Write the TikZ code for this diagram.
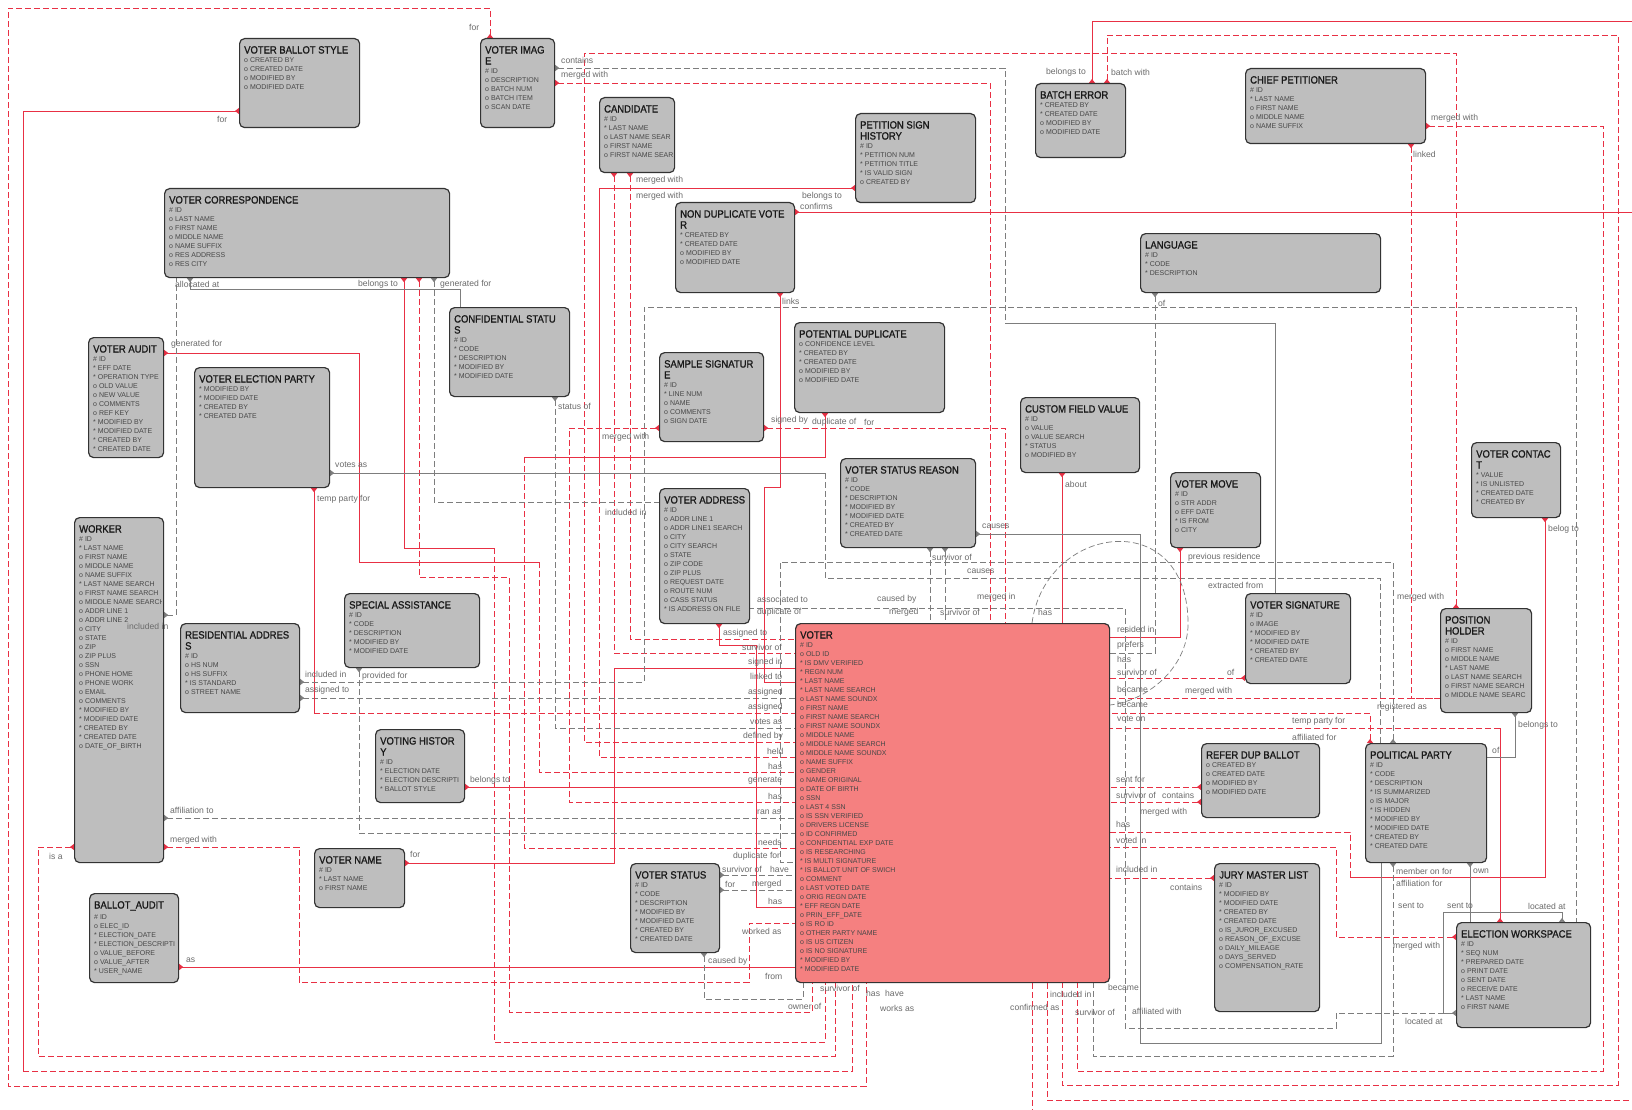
\documentclass[tikz,border=0pt]{standalone}
\usepackage{fontspec}
\setmainfont{Liberation Sans}
\newfontfamily\entfont{Liberation Sans}[FakeStretch=0.9,FakeBold=1.2]
\usetikzlibrary{arrows.meta}
\definecolor{entfill}{RGB}{190,190,190}
\definecolor{voterfill}{RGB}{245,128,128}
\definecolor{redl}{RGB}{232,48,68}
\definecolor{grayl}{RGB}{125,125,125}
\pgfdeclarelayer{bg}
\pgfsetlayers{bg,main}
\newcommand\sa{*\ }
\newcommand\so{o\ }
\newcommand\sh{\#\ }
\tikzset{
 ent/.style={draw=black!80, line width=1.2pt, rounded corners=5pt, inner sep=0pt},
 ttl/.style={inner sep=0pt, align=left, font=\entfont\fontsize{10.5}{11}\selectfont, text=black!90},
 att/.style={inner sep=0pt, align=left, font=\fontsize{7}{9}\selectfont, text=black!72},
 lab/.style={inner sep=0pt, anchor=west, font=\fontsize{8.6}{9}\selectfont, text=black!58},
 rs/.style={draw=redl, line width=0.9pt},
 rd/.style={rs, dash pattern=on 6pt off 3pt},
 gs/.style={draw=grayl, line width=0.7pt},
 gd/.style={gs, dash pattern=on 6pt off 3pt},
 cs/.style={arrows={Triangle[reversed,length=4pt,width=6pt]-}},
}
\newcommand\erbox[8][entfill]{%
 \node[ent, fill=#1, minimum width=#5-#3, minimum height=#6-#4, anchor=north west] (#2) at (#3,#4) {};
 \begin{scope}
 \clip (#3+2,#4+2) rectangle (#5-2,#6-2);
 \node[ttl, anchor=north west] (#2t) at ([shift={(5,8)}]#2.north west) {#7};
 \node[att, anchor=north west] (#2a) at ([shift={(0,3.3)}]#2t.south west) {#8};
 \end{scope}
}
\newcommand\mylbl[3]{\node[lab] (#1) at (#2) {#3};}
\begin{document}
\begin{tikzpicture}[x=1pt,y=-1pt]
\begin{pgfonlayer}{bg}
\fill[white] (0,0) rectangle (1632,1110);
\end{pgfonlayer}
\useasboundingbox (0,0) rectangle (1632,1110);

% ---------------- entities ----------------
\erbox{vbs}{239}{38}{359}{127}{VOTER BALLOT STYLE}{\so CREATED BY\\\so CREATED DATE\\\so MODIFIED BY\\\so MODIFIED DATE}
\erbox{vimg}{480}{38}{554}{127}{VOTER IMAG\\E}{\sh ID\\\so DESCRIPTION\\\so BATCH NUM\\\so BATCH ITEM\\\so SCAN DATE}
\erbox{cand}{599}{97}{674}{172}{CANDIDATE}{\sh ID\\\sa LAST NAME\\\so LAST NAME SEAR\\\so FIRST NAME\\\so FIRST NAME SEAR}
\erbox{ndv}{675}{202}{794}{292}{NON DUPLICATE VOTE\\R}{\sa CREATED BY\\\sa CREATED DATE\\\so MODIFIED BY\\\so MODIFIED DATE}
\erbox{psh}{855}{113}{975}{202}{PETITION SIGN\\HISTORY}{\sh ID\\\sa PETITION NUM\\\sa PETITION TITLE\\\sa IS VALID SIGN\\\so CREATED BY}
\erbox{berr}{1035}{83}{1125}{157}{BATCH ERROR}{\sa CREATED BY\\\sa CREATED DATE\\\so MODIFIED BY\\\so MODIFIED DATE}
\erbox{chief}{1245}{68}{1425}{143}{CHIEF PETITIONER}{\sh ID\\\sa LAST NAME\\\so FIRST NAME\\\so MIDDLE NAME\\\so NAME SUFFIX}
\erbox{lang}{1140}{233}{1380}{292}{LANGUAGE}{\sh ID\\\sa CODE\\\sa DESCRIPTION}
\erbox{vcorr}{164}{188}{449}{277}{VOTER CORRESPONDENCE}{\sh ID\\\so LAST NAME\\\so FIRST NAME\\\so MIDDLE NAME\\\so NAME SUFFIX\\\so RES ADDRESS\\\so RES CITY}
\erbox{vaud}{88}{337}{163}{457}{VOTER AUDIT}{\sh ID\\\sa EFF DATE\\\sa OPERATION TYPE\\\so OLD VALUE\\\so NEW VALUE\\\so COMMENTS\\\so REF KEY\\\sa MODIFIED BY\\\sa MODIFIED DATE\\\sa CREATED BY\\\sa CREATED DATE}
\erbox{vep}{194}{367}{329}{487}{VOTER ELECTION PARTY}{\sa MODIFIED BY\\\sa MODIFIED DATE\\\sa CREATED BY\\\sa CREATED DATE}
\erbox{conf}{449}{307}{569}{396}{CONFIDENTIAL STATU\\S}{\sh ID\\\sa CODE\\\sa DESCRIPTION\\\sa MODIFIED BY\\\sa MODIFIED DATE}
\erbox{samp}{659}{352}{763}{441}{SAMPLE SIGNATUR\\E}{\sh ID\\\sa LINE NUM\\\so NAME\\\so COMMENTS\\\so SIGN DATE}
\erbox{pdup}{794}{322}{944}{412}{POTENTIAL DUPLICATE}{\so CONFIDENCE LEVEL\\\sa CREATED BY\\\sa CREATED DATE\\\so MODIFIED BY\\\so MODIFIED DATE}
\erbox{cfv}{1020}{397}{1139}{472}{CUSTOM FIELD VALUE}{\sh ID\\\so VALUE\\\so VALUE SEARCH\\\sa STATUS\\\so MODIFIED BY}
\erbox{vsr}{840}{458}{975}{547}{VOTER STATUS REASON}{\sh ID\\\sa CODE\\\sa DESCRIPTION\\\sa MODIFIED BY\\\sa MODIFIED DATE\\\sa CREATED BY\\\sa CREATED DATE}
\erbox{vmove}{1170}{472}{1260}{547}{VOTER MOVE}{\sh ID\\\so STR ADDR\\\so EFF DATE\\\sa IS FROM\\\so CITY}
\erbox{vcont}{1471}{442}{1560}{517}{VOTER CONTAC\\T}{\sa VALUE\\\sa IS UNLISTED\\\sa CREATED DATE\\\sa CREATED BY}
\erbox{vsig}{1245}{593}{1350}{683}{VOTER SIGNATURE}{\sh ID\\\so IMAGE\\\sa MODIFIED BY\\\sa MODIFIED DATE\\\sa CREATED BY\\\sa CREATED DATE}
\erbox{posh}{1440}{608}{1531}{712}{POSITION\\HOLDER}{\sh ID\\\so FIRST NAME\\\so MIDDLE NAME\\\sa LAST NAME\\\so LAST NAME SEARCH\\\so FIRST NAME SEARCH\\\so MIDDLE NAME SEARC}
\erbox{worker}{74}{517}{163}{862}{WORKER}{\sh ID\\\sa LAST NAME\\\so FIRST NAME\\\so MIDDLE NAME\\\so NAME SUFFIX\\\sa LAST NAME SEARCH\\\so FIRST NAME SEARCH\\\so MIDDLE NAME SEARCH\\\so ADDR LINE 1\\\so ADDR LINE 2\\\so CITY\\\so STATE\\\so ZIP\\\so ZIP PLUS\\\so SSN\\\so PHONE HOME\\\so PHONE WORK\\\so EMAIL\\\so COMMENTS\\\sa MODIFIED BY\\\sa MODIFIED DATE\\\sa CREATED BY\\\sa CREATED DATE\\\so DATE\_OF\_BIRTH}
\erbox{resad}{180}{623}{299}{712}{RESIDENTIAL ADDRES\\S}{\sh ID\\\so HS NUM\\\so HS SUFFIX\\\sa IS STANDARD\\\so STREET NAME}
\erbox{spec}{344}{593}{479}{667}{SPECIAL ASSISTANCE}{\sh ID\\\sa CODE\\\sa DESCRIPTION\\\sa MODIFIED BY\\\sa MODIFIED DATE}
\erbox{vhist}{375}{729}{464}{802}{VOTING HISTOR\\Y}{\sh ID\\\sa ELECTION DATE\\\sa ELECTION DESCRIPTI\\\sa BALLOT STYLE}
\erbox{vname}{314}{848}{404}{907}{VOTER NAME}{\sh ID\\\sa LAST NAME\\\so FIRST NAME}
\erbox{baud}{89}{893}{178}{982}{BALLOT\_AUDIT}{\sh ID\\\so ELEC\_ID\\\sa ELECTION\_DATE\\\sa ELECTION\_DESCRIPTI\\\so VALUE\_BEFORE\\\so VALUE\_AFTER\\\sa USER\_NAME}
\erbox{vstat}{630}{863}{719}{952}{VOTER STATUS}{\sh ID\\\sa CODE\\\sa DESCRIPTION\\\sa MODIFIED BY\\\sa MODIFIED DATE\\\sa CREATED BY\\\sa CREATED DATE}
\erbox{vaddr}{659}{488}{749}{623}{VOTER ADDRESS}{\sh ID\\\so ADDR LINE 1\\\so ADDR LINE1 SEARCH\\\so CITY\\\so CITY SEARCH\\\so STATE\\\so ZIP CODE\\\so ZIP PLUS\\\so REQUEST DATE\\\so ROUTE NUM\\\so CASS STATUS\\\sa IS ADDRESS ON FILE}
\erbox[voterfill]{voter}{795}{623}{1109}{982}{VOTER}{\sh ID\\\so OLD ID\\\sa IS DMV VERIFIED\\\sa REGN NUM\\\sa LAST NAME\\\sa LAST NAME SEARCH\\\so LAST NAME SOUNDX\\\so FIRST NAME\\\so FIRST NAME SEARCH\\\so FIRST NAME SOUNDX\\\so MIDDLE NAME\\\so MIDDLE NAME SEARCH\\\so MIDDLE NAME SOUNDX\\\so NAME SUFFIX\\\so GENDER\\\so NAME ORIGINAL\\\so DATE OF BIRTH\\\so SSN\\\so LAST 4 SSN\\\so IS SSN VERIFIED\\\so DRIVERS LICENSE\\\so ID CONFIRMED\\\so CONFIDENTIAL EXP DATE\\\so IS RESEARCHING\\\sa IS MULTI SIGNATURE\\\sa IS BALLOT UNIT OF SWICH\\\so COMMENT\\\so LAST VOTED DATE\\\so ORIG REGN DATE\\\sa EFF REGN DATE\\\so PRIN\_EFF\_DATE\\\so IS RO ID\\\so OTHER PARTY NAME\\\so IS US CITIZEN\\\so IS NO SIGNATURE\\\sa MODIFIED BY\\\sa MODIFIED DATE}
\erbox{refer}{1201}{743}{1319}{817}{REFER DUP BALLOT}{\so CREATED BY\\\so CREATED DATE\\\so MODIFIED BY\\\so MODIFIED DATE}
\erbox{jury}{1214}{863}{1319}{1011}{JURY MASTER LIST}{\sh ID\\\sa MODIFIED BY\\\sa MODIFIED DATE\\\sa CREATED BY\\\sa CREATED DATE\\\so IS\_JUROR\_EXCUSED\\\so REASON\_OF\_EXCUSE\\\so DAILY\_MILEAGE\\\so DAYS\_SERVED\\\so COMPENSATION\_RATE}
\erbox{ppty}{1365}{743}{1486}{862}{POLITICAL PARTY}{\sh ID\\\sa CODE\\\sa DESCRIPTION\\\sa IS SUMMARIZED\\\so IS MAJOR\\\sa IS HIDDEN\\\sa MODIFIED BY\\\sa MODIFIED DATE\\\sa CREATED BY\\\sa CREATED DATE}
\erbox{ews}{1456}{922}{1590}{1027}{ELECTION WORKSPACE}{\sh ID\\\sa SEQ NUM\\\sa PREPARED DATE\\\so PRINT DATE\\\so SENT DATE\\\so RECEIVE DATE\\\sa LAST NAME\\\so FIRST NAME}

\coordinate (eR1) at (1632,212);
\coordinate (eR2) at (1632,21);
\coordinate (eR3) at (1632,1100);
\coordinate (eB1) at (1032,1110);

% ---------------- connectors ----------------
\begin{pgfonlayer}{bg}
\draw[rd,cs] (vimg.north -| 490,0) -- (490,8) -- (8,8) -- (8,1086) -- (866,1086) -- (voter.south -| 866,0);
\draw[rs,cs] (vbs.west |- 0,111) -- (23,111) -- (23,1071) coordinate (j2);
\draw[rd] (j2) -- (852,1071) -- (voter.south -| 852,0);
\draw[rd,cs] (worker.west |- 0,847) -- (38,847) -- (38,1056) -- (835,1056) -- (voter.south -| 835,0);
\draw[rd,cs] (worker.east |- 0,847) -- (299,847) -- (299,982) -- (749,982) -- (749,923) -- (voter.west |- 0,923);
\draw[rs,cs] (baud.east |- 0,967) -- (voter.west |- 0,967);
\draw[gd,cs] (worker.east |- 0,818) -- (voter.west |- 0,818);
\draw[rd,cs] (cand.south -| 630,0) -- (630,639) -- (voter.west |- 0,639);
\draw[rd,cs] (cand.south -| 614,0) -- (614,653) -- (voter.west |- 0,653);
\draw[rs,cs] (vname.east |- 0,863) -- (614,863) -- (614,668) -- (voter.west |- 0,668);
\draw[rs,cs] (ndv.south -| 780,0) -- (780,487) -- (764,487) -- (764,682) -- (voter.west |- 0,682);
\draw[gd,cs] (resad.east |- 0,698) -- (voter.west |- 0,698);
\draw[rs,cs] (vep.south -| 314,0) -- (314,713) coordinate (j12);
\draw[rd] (j12) -- (voter.west |- 0,713);
\draw[gd,cs] (conf.south -| 555,0) -- (555,728) -- (voter.west |- 0,728);
\draw[rd,cs] (posh.north -| 1456,0) -- (1456,53) -- (584,53) -- (584,742) -- (voter.west |- 0,742);
\draw[rs,cs] (psh.west |- 0,188) -- (599,188) -- (599,480) coordinate (j15);
\draw[rd] (j15) -- (599,757) -- (voter.west |- 0,757);
\draw[rs,cs] (vaud.east |- 0,353) -- (359,353) -- (359,562) -- (539,562) coordinate (j16);
\draw[rd] (j16) -- (539,772) -- (voter.west |- 0,772);
\draw[rs,cs] (vhist.east |- 0,787) -- (voter.west |- 0,787);
\draw[rd,cs] (samp.west |- 0,428) -- (569,428) -- (569,802) -- (voter.west |- 0,802);
\draw[gd,cs] (spec.south -| 359,0) -- (359,833) -- (voter.west |- 0,833);
\draw[rs,cs] (pdup.south -| 825,0) -- (825,457) -- (524,457) coordinate (j20);
\draw[rd] (j20) -- (524,848) -- (voter.west |- 0,848);
\draw[gd,cs] (ppty.north -| 1393,0) -- (1393,562) -- (780,562) -- (780,862) -- (voter.west |- 0,862);
\draw[gd,cs] (vstat.east |- 0,875) -- (voter.west |- 0,875);
\draw[gd,cs] (vstat.east |- 0,890) -- (voter.west |- 0,890);
\draw[rs,cs] (vaddr.south -| 719,0) -- (719,645) -- (756,645) -- (756,907) -- (voter.west |- 0,907);
\draw[gd,cs] (vstat.south -| 704,0) -- (704,999) -- (803,999) -- (voter.south -| 803,0);
\draw[rs,cs] (vcorr.south -| 404,0) -- (404,548) -- (494,548) coordinate (j27);
\draw[rd] (j27) -- (494,1042) -- (825,1042) -- (voter.south -| 825,0);
\draw[rd,cs] (vcorr.south -| 419,0) -- (419,577) -- (509,577) -- (509,1012) -- (812,1012) -- (voter.south -| 812,0);
\draw[gd,cs] (vcorr.south -| 434,0) -- (434,502) -- (vaddr.west |- 0,502);
\draw[gd,cs] (worker.east |- 0,615) -- (176,615) -- (vcorr.south -| 176,0);
\draw[gs,cs] (vcorr.south -| 190,0) -- (190,289) -- (460,289) -- (conf.north -| 460,0);
\draw[gs,cs] (vep.east |- 0,473) -- (825,473) coordinate (j32);
\draw[gd] (j32) -- (825,578) -- (1380,578) -- (ppty.north -| 1380,0);
\draw[rd,cs] (samp.east |- 0,428) -- (1005,428) -- (voter.north -| 1005,0);
\draw[rd,cs] (vimg.east |- 0,83) -- (990,83) -- (voter.north -| 990,0);
\draw[gd,cs] (vimg.east |- 0,68) -- (1005,68) -- (1005,323) coordinate (j35);
\draw[gs] (j35) -- (1275,323) -- (vsig.north -| 1275,0);
\draw[rs,cs] (ndv.east |- 0,212) -- (eR1);
\draw[rs,cs] (berr.north -| 1092,0) -- (1092,21) -- (eR2);
\draw[rd,cs] (berr.north -| 1107,0) -- (1107,35) -- (1618,35) -- (1618,1085) -- (1062,1085) -- (voter.south -| 1062,0);
\draw[rd,cs] (chief.east |- 0,126) -- (1603,126) -- (1603,1071) -- (1077,1071) -- (voter.south -| 1077,0);
\draw[rd,cs] (chief.south -| 1411,0) -- (1411,698) -- (posh.west |- 0,698);
\draw[rd] (voter.east |- 0,698) -- (posh.west |- 0,698);
\draw[rs,cs] (cfv.south -| 1062,0) -- (voter.north -| 1062,0);
\draw[gd,cs] (lang.south -| 1155,0) -- (1155,653) -- (voter.east |- 0,653);
\draw[rs,cs] (vmove.south -| 1180,0) -- (1180,637) -- (voter.east |- 0,637);
\draw[gd] (voter.north -| 1032,0) .. controls (1045,525) and (1185,505) .. (1188,620) .. controls (1190,665) and (1150,700) .. (voter.east |- 0,705);
\draw[gd,cs] (vsr.south -| 930,0) -- (voter.north -| 930,0);
\draw[gd,cs] (vsr.south -| 945,0) -- (voter.north -| 945,0);
\draw[rd,cs] (vsig.west |- 0,678) -- (voter.east |- 0,678);
\draw[rd,cs] (ppty.north -| 1370,0) -- (1370,713) -- (voter.east |- 0,713);
\draw[rs,cs] (ews.north -| 1500,0) -- (1500,728) coordinate (j48);
\draw[rd] (j48) -- (voter.east |- 0,728);
\draw[gs,cs] (posh.south -| 1515,0) -- (1515,757) -- (ppty.east |- 0,757);
\draw[rs,cs] (vcont.south -| 1545,0) -- (1545,877) -- (1350,877) coordinate (j50);
\draw[rd] (j50) -- (1350,832) -- (voter.east |- 0,832);
\draw[rd,cs] (refer.west |- 0,787) -- (voter.east |- 0,787);
\draw[rd,cs] (refer.west |- 0,802) -- (voter.east |- 0,802);
\draw[rd,cs] (ews.west |- 0,937) -- (1336,937) -- (1336,847) -- (voter.east |- 0,847);
\draw[rd,cs] (jury.west |- 0,878) -- (voter.east |- 0,878);
\draw[gd,cs] (ews.west |- 0,1013) -- (1336,1013) -- (1336,1028) -- (1125,1028) -- (1125,608) -- (vaddr.east |- 0,608);
\draw[gs,cs] (vsr.east |- 0,534) -- (1140,534) -- (1140,1043) -- (1381,1043) -- (ppty.south -| 1381,0);
\draw[gd,cs] (ppty.south -| 1393,0) -- (1393,1056) -- (1093,1056) -- (voter.south -| 1093,0);
\draw[gs,cs] (ppty.south -| 1470,0) -- (ews.north -| 1470,0);
\draw[gd,cs] (resad.east |- 0,682) -- (644,682) -- (644,307) -- (1576,307) -- (ews.north -| 1576,0);
\draw[gs,cs] (ews.north -| 1562,0) -- (1562,912) -- (1443,912) -- (1443,1013) -- (ews.west |- 0,1013);
\draw[rd] (voter.south -| 1047,0) -- (1047,1100) -- (eR3);
\draw[rd] (voter.south -| 1032,0) -- (eB1);
\end{pgfonlayer}

% ---------------- labels ----------------
\mylbl{l1}{469,27}{for}
\mylbl{l2}{217,119}{for}
\mylbl{l3}{49,856}{is a}
\mylbl{l4}{170,840}{merged with}
\mylbl{l5}{170,810}{affiliation to}
\mylbl{l6}{186,960}{as}
\mylbl{l7}{410,854}{for}
\mylbl{l8}{470,780}{belongs to}
\mylbl{l9}{171,344}{generated for}
\mylbl{l10}{335,465}{votes as}
\mylbl{l11}{317,499}{temp party for}
\mylbl{l12}{127,626}{included in}
\mylbl{l13}{305,674}{included in}
\mylbl{l14}{305,690}{assigned to}
\mylbl{l15}{362,676}{provided for}
\mylbl{l16}{175,284}{allocated at}
\mylbl{l17}{358,284}{belongs to}
\mylbl{l18}{440,284}{generated for}
\mylbl{l19}{561,60}{contains}
\mylbl{l20}{561,75}{merged with}
\mylbl{l21}{636,180}{merged with}
\mylbl{l22}{636,196}{merged with}
\mylbl{l23}{802,196}{belongs to}
\mylbl{l24}{800,206}{confirms}
\mylbl{l25}{782,301}{links}
\mylbl{l26}{558,406}{status of}
\mylbl{l27}{602,437}{merged with}
\mylbl{l28}{771,420}{signed by}
\mylbl{l29}{812,422}{duplicate of}
\mylbl{l30}{864,422}{for}
\mylbl{l31}{605,512}{included in}
\mylbl{l32}{757,599}{associated to}
\mylbl{l33}{757,612}{duplicate of}
\mylbl{l34}{723,633}{assigned to}
\mylbl{l35}{742,647}{survivor of}
\mylbl{l36}{748,662}{signed in}
\mylbl{l37}{750,676}{linked to}
\mylbl{l38}{748,692}{assigned}
\mylbl{l39}{748,707}{assigned}
\mylbl{l40}{750,722}{votes as}
\mylbl{l41}{743,736}{defined by}
\mylbl{l42}{767,751}{held}
\mylbl{l43}{768,766}{has}
\mylbl{l44}{748,781}{generate}
\mylbl{l45}{768,796}{has}
\mylbl{l46}{757,812}{ran as}
\mylbl{l47}{758,842}{needs}
\mylbl{l48}{733,856}{duplicate for}
\mylbl{l49}{722,869}{survivor of}
\mylbl{l50}{770,869}{have}
\mylbl{l51}{725,884}{for}
\mylbl{l52}{752,884}{merged}
\mylbl{l53}{768,901}{has}
\mylbl{l54}{742,931}{worked as}
\mylbl{l55}{708,961}{caused by}
\mylbl{l56}{765,976}{from}
\mylbl{l57}{788,1006}{owner of}
\mylbl{l58}{820,988}{survivor of}
\mylbl{l59}{866,993}{has}
\mylbl{l60}{885,993}{have}
\mylbl{l61}{880,1008}{works as}
\mylbl{l62}{1010,1007}{confirmed as}
\mylbl{l63}{1050,994}{included in}
\mylbl{l64}{1075,1012}{survivor of}
\mylbl{l65}{1132,1011}{affiliated with}
\mylbl{l66}{1108,987}{became}
\mylbl{l67}{877,599}{caused by}
\mylbl{l68}{889,612}{merged}
\mylbl{l69}{940,612}{survivor of}
\mylbl{l71}{977,597}{merged in}
\mylbl{l72}{1038,612}{has}
\mylbl{l73}{932,557}{survivor of}
\mylbl{l74}{967,571}{causes}
\mylbl{l75}{982,526}{causes}
\mylbl{l76}{1065,484}{about}
\mylbl{l77}{1188,557}{previous residence}
\mylbl{l78}{1208,585}{extracted from}
\mylbl{l79}{1117,629}{resided in}
\mylbl{l80}{1117,645}{prefers}
\mylbl{l81}{1117,659}{has}
\mylbl{l82}{1117,672}{survivor of}
\mylbl{l83}{1117,689}{became}
\mylbl{l84}{1117,704}{became}
\mylbl{l85}{1117,719}{vote on}
\mylbl{l86}{1185,691}{merged with}
\mylbl{l87}{1116,779}{sent for}
\mylbl{l88}{1116,795}{survivor of}
\mylbl{l89}{1162,795}{contains}
\mylbl{l90}{1140,812}{merged with}
\mylbl{l91}{1116,824}{has}
\mylbl{l92}{1116,840}{voted in}
\mylbl{l93}{1116,869}{included in}
\mylbl{l94}{1170,887}{contains}
\mylbl{l95}{1046,72}{belongs to}
\mylbl{l96}{1111,72}{batch with}
\mylbl{l97}{1431,118}{merged with}
\mylbl{l98}{1413,154}{linked}
\mylbl{l99}{1158,303}{of}
\mylbl{l100}{1548,529}{belog to}
\mylbl{l101}{1397,597}{merged with}
\mylbl{l102}{1227,672}{of}
\mylbl{l103}{1377,707}{registered as}
\mylbl{l104}{1518,725}{belongs to}
\mylbl{l105}{1292,721}{temp party for}
\mylbl{l106}{1292,737}{affiliated for}
\mylbl{l107}{1492,750}{of}
\mylbl{l108}{1396,871}{member on for}
\mylbl{l109}{1396,883}{affiliation for}
\mylbl{l110}{1473,871}{own}
\mylbl{l111}{1398,906}{sent to}
\mylbl{l112}{1447,906}{sent to}
\mylbl{l113}{1528,906}{located at}
\mylbl{l114}{1393,946}{merged with}
\mylbl{l115}{1405,1021}{located at}
\end{tikzpicture}
\end{document}
